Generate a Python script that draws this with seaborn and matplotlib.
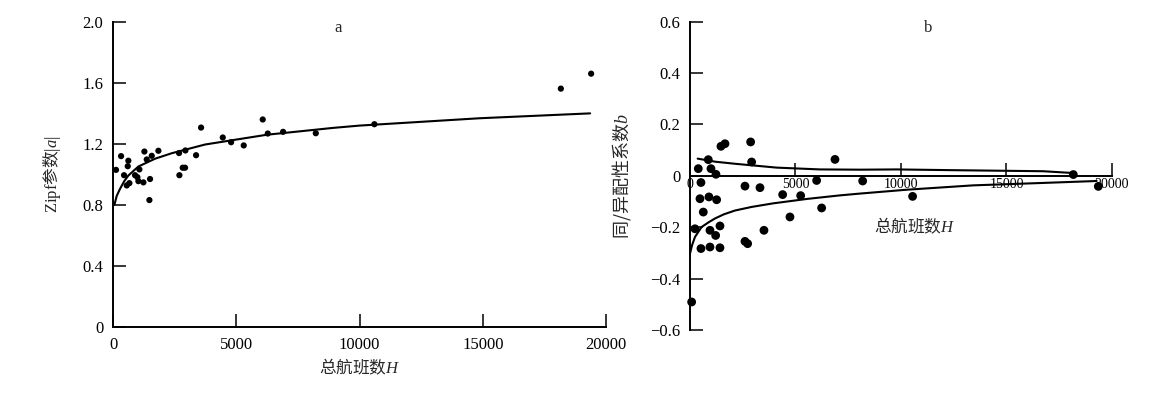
import numpy as np
import pandas as pd
import seaborn as sns
import matplotlib
matplotlib.use('Agg')
import matplotlib.pyplot as plt

# 图 a: Zipf 参数 |a| 与总航班数 H
a_x = [120, 325, 446, 555, 596, 621, 662, 892, 987, 1028, 1068, 1231, 1271, 1366,
       1500, 1474, 1569, 1839, 2677, 2691, 2826, 2920, 2935, 3367, 3570, 4450,
       4787, 5300, 6071, 6275, 6897, 8223, 10600, 18163, 19391]
a_y = [1.03, 1.12, 0.995, 0.928, 1.054, 1.09, 0.943, 0.995, 0.982, 0.956, 1.033,
       0.948, 1.15, 1.098, 0.97, 0.832, 1.122, 1.155, 1.14, 0.995, 1.044, 1.044,
       1.157, 1.126, 1.307, 1.242, 1.211, 1.19, 1.36, 1.268, 1.279, 1.27, 1.329,
       1.562, 1.66]
# 拟合曲线
a_fit_x = [53, 150, 284, 450, 621, 1028, 1704, 2381, 3732, 6235, 8930, 10000, 14860, 19350]
a_fit_y = [0.80, 0.86, 0.906, 0.955, 0.993, 1.052, 1.103, 1.139, 1.196, 1.26, 1.305,
           1.32, 1.368, 1.40]

# 图 b: 同/异配性系数 b 与总航班数 H
b_x = [80, 1659, 1469, 2875, 2922, 869, 395, 995, 1232, 521, 2607, 3318, 474, 900,
       1264, 632, 237, 948, 1422, 1217, 3507, 2607, 2733, 521, 948, 1422,
       6872, 6003, 4392, 5246, 6240, 4739, 8184, 10550, 18166, 19351]
b_y = [-0.491, 0.125, 0.115, 0.132, 0.054, 0.063, 0.028, 0.028, 0.006, -0.026,
       -0.040, -0.046, -0.089, -0.082, -0.093, -0.141, -0.206, -0.212, -0.195,
       -0.232, -0.212, -0.255, -0.264, -0.283, -0.277, -0.280,
       0.064, -0.018, -0.073, -0.077, -0.125, -0.160, -0.020, -0.080, 0.005, -0.041]
b_up_x = [365, 1200, 2133, 4110, 6160, 8060, 9795, 12500, 16730, 18150]
b_up_y = [0.067, 0.055, 0.047, 0.032, 0.025, 0.024, 0.025, 0.022, 0.018, 0.011]
b_low_x = [0, 100, 237, 553, 900, 1185, 1600, 2133, 2922, 3950, 5530, 7110, 8060,
           10270, 13430, 16590, 18960, 19270]
b_low_y = [-0.303, -0.27, -0.238, -0.199, -0.180, -0.166, -0.150, -0.135, -0.121,
           -0.107, -0.090, -0.076, -0.069, -0.054, -0.037, -0.028, -0.021, -0.020]

x_ticks = [0, 5000, 10000, 15000, 20000]
a_yticks = [0, 0.4, 0.8, 1.2, 1.6, 2.0]
a_ylabels = ['0', '0.4', '0.8', '1.2', '1.6', '2.0']
b_yticks = [-0.6, -0.4, -0.2, 0, 0.2, 0.4, 0.6]
b_ylabels = ['\u22120.6', '\u22120.4', '\u22120.2', '0', '0.2', '0.4', '0.6']

sns.set_theme(style='ticks')
plt.rcParams['font.family'] = ['Liberation Serif', 'Noto Sans CJK SC']
plt.rcParams['mathtext.fontset'] = 'custom'
plt.rcParams['mathtext.rm'] = 'Liberation Serif'
plt.rcParams['mathtext.it'] = 'Liberation Serif:italic'
plt.rcParams['mathtext.default'] = 'it'
plt.rcParams['axes.unicode_minus'] = False

# 含中文的标签: 正文用 CJK 字体, 西文部分放在数学模式里用衬线体
cjk = ['Noto Sans CJK SC', 'Liberation Serif']

fig = plt.figure(figsize=(11.74, 3.96), dpi=100)
ax1 = fig.add_axes([0.0963, 0.174, 0.42, 0.771])
ax2 = fig.add_axes([0.5877, 0.1667, 0.3595, 0.7785])

tick_kw = dict(direction='in', length=9.5, width=1.1, colors='black')

# ---- 图 a ----
sns.scatterplot(x=a_x, y=a_y, ax=ax1, color='black', s=20, edgecolor='none', clip_on=False)
sns.lineplot(x=a_fit_x, y=a_fit_y, ax=ax1, color='black', linewidth=1.5)
ax1.set_xlim(0, 20000)
ax1.set_ylim(0, 2.0)
ax1.set_xticks(x_ticks)
ax1.set_xticklabels([str(t) for t in x_ticks])
ax1.set_yticks(a_yticks)
ax1.set_yticklabels(a_ylabels)
ax1.tick_params(axis='both', labelsize=12, pad=7, **tick_kw)
sns.despine(ax=ax1)
for sp in ['left', 'bottom']:
    ax1.spines[sp].set_linewidth(1.4)
    ax1.spines[sp].set_color('black')
ax1.set_xlabel('总航班数$H$', fontsize=12, labelpad=3, family=cjk)
ax1.set_ylabel(r'$\mathrm{Zipf}$参数$|a|$', fontsize=12, labelpad=14, family=cjk)
ax1.text(0.456, 0.98, 'a', transform=ax1.transAxes, ha='center', va='center', fontsize=12)

# ---- 图 b ----
sns.scatterplot(x=b_x, y=b_y, ax=ax2, color='black', s=40, edgecolor='none', clip_on=False)
sns.lineplot(x=b_up_x, y=b_up_y, ax=ax2, color='black', linewidth=1.5)
sns.lineplot(x=b_low_x, y=b_low_y, ax=ax2, color='black', linewidth=1.5)
ax2.set_xlim(0, 20000)
ax2.set_ylim(-0.6, 0.6)
sns.despine(ax=ax2)
ax2.spines['bottom'].set_position(('data', 0))
for sp in ['left', 'bottom']:
    ax2.spines[sp].set_linewidth(1.4)
    ax2.spines[sp].set_color('black')
ax2.set_xticks(x_ticks)
ax2.set_xticklabels([str(t) for t in x_ticks])
ax2.set_yticks(b_yticks)
ax2.set_yticklabels(b_ylabels)
ax2.tick_params(axis='x', labelsize=10, pad=1.5, **tick_kw)
ax2.tick_params(axis='y', labelsize=12, pad=7, **tick_kw)
ax2.set_ylabel('同/异配性系数$b$', fontsize=13, labelpad=12, family=cjk)
ax2.set_xlabel('总航班数$H$', fontsize=12, family=cjk)
ax2.xaxis.set_label_coords(0.533, 0.37)
ax2.text(0.564, 0.98, 'b', transform=ax2.transAxes, ha='center', va='center', fontsize=12)

fig.savefig('out.png', dpi=100)
